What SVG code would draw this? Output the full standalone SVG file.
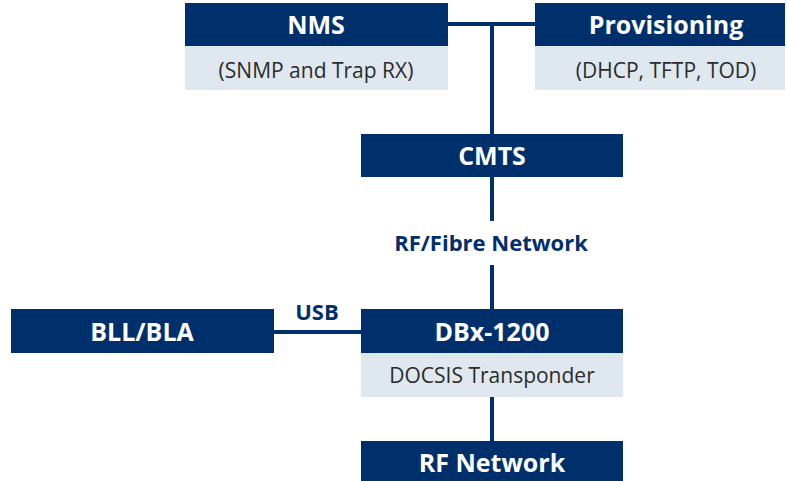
<svg xmlns="http://www.w3.org/2000/svg" width="787" height="481" viewBox="0 0 787 481">
<style>
.hd{fill:#00306b}
.sub{fill:#dfe8ef}
.t{font-family:"Open Sans",Lato,sans-serif;font-weight:bold;font-size:25px;fill:#fff;text-anchor:middle}
.s{font-family:"Open Sans",Lato,sans-serif;font-size:21px;fill:#2b2b2b;text-anchor:middle}
.l{font-family:"Open Sans",Lato,sans-serif;font-weight:bold;font-size:22px;fill:#00306b;text-anchor:middle}
.c{stroke:#00306b;stroke-width:4;fill:none}
</style>
<rect width="787" height="481" fill="#fff"/>
<g id="connectors">
<line class="c" x1="448" y1="24" x2="535" y2="24"/>
<line class="c" x1="492" y1="24" x2="492" y2="134"/>
<line class="c" x1="492" y1="177" x2="492" y2="221"/>
<line class="c" x1="492" y1="265" x2="492" y2="309"/>
<line class="c" x1="274" y1="332" x2="361" y2="332"/>
<line class="c" x1="492" y1="397" x2="492" y2="441"/>
<text class="l" x="491" y="251">RF/Fibre Network</text>
<text class="l" x="317" y="320">USB</text>
</g>
<g id="nms">
<rect class="hd" x="185" y="3" width="263" height="43"/>
<rect class="sub" x="185" y="46" width="263" height="44"/>
<text class="t" x="316" y="34">NMS</text>
<text class="s" x="316" y="78">(SNMP and Trap RX)</text>
</g>
<g id="provisioning">
<rect class="hd" x="535" y="3" width="250" height="43"/>
<rect class="sub" x="535" y="46" width="250" height="44"/>
<text class="t" x="666" y="34">Provisioning</text>
<text class="s" x="666" y="78">(DHCP, TFTP, TOD)</text>
</g>
<g id="cmts">
<rect class="hd" x="361" y="134" width="262" height="43"/>
<text class="t" x="492" y="165">CMTS</text>
</g>
<g id="bll">
<rect class="hd" x="11" y="309" width="263" height="44"/>
<text class="t" x="142" y="341">BLL/BLA</text>
</g>
<g id="dbx">
<rect class="hd" x="361" y="309" width="262" height="44"/>
<rect class="sub" x="361" y="353" width="262" height="44"/>
<text class="t" x="492" y="341">DBx-1200</text>
<text class="s" x="492" y="383">DOCSIS Transponder</text>
</g>
<g id="rfnet">
<rect class="hd" x="361" y="441" width="262" height="40"/>
<text class="t" x="492" y="472">RF Network</text>
</g>
</svg>
